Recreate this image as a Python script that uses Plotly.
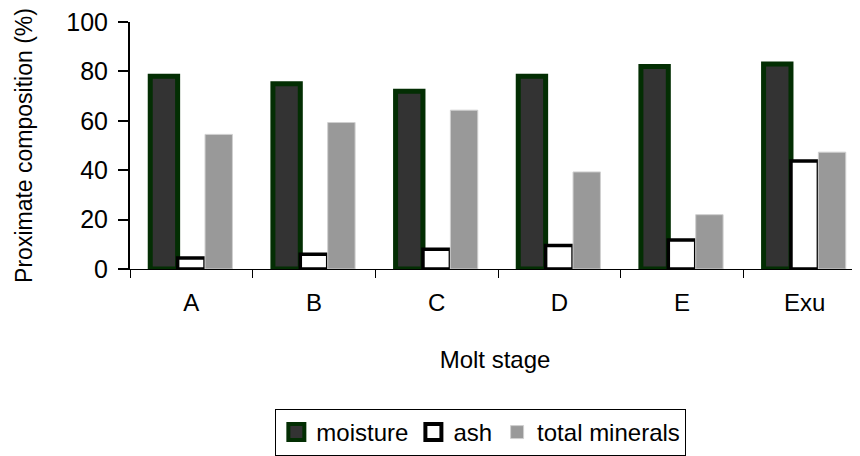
import plotly.graph_objects as go

categories = ["A", "B", "C", "D", "E", "Exu"]
moisture = [78, 75, 72, 78, 82, 83]
ash = [4.5, 6, 8, 9.5, 11.7, 43.7]
total_minerals = [54.5, 59.3, 64.3, 39.3, 22, 47.3]
y_ticks = [0, 20, 40, 60, 80, 100]

FONT = "Liberation Sans, Arial, sans-serif"

styles = {
    "moisture": dict(fill="#333333", line="#032e03", width=5),
    "ash": dict(fill="#ffffff", line="#000000", width=3.5),
    "total minerals": dict(fill="#999999", line="#d0d0d0", width=1),
}
legend_sizes = {"moisture": (16, 4), "ash": (16, 4), "total minerals": (13, 1)}

fig = go.Figure()
for name, vals in [("moisture", moisture), ("ash", ash), ("total minerals", total_minerals)]:
    s = styles[name]
    fig.add_trace(go.Bar(
        name=name, x=categories, y=vals, showlegend=False,
        marker=dict(color=s["fill"], line=dict(color=s["line"], width=s["width"])),
    ))
for name in ["moisture", "ash", "total minerals"]:
    s = styles[name]
    sz, lw = legend_sizes[name]
    fig.add_trace(go.Scatter(
        name=name, x=[None], y=[None], mode="markers",
        marker=dict(symbol="square", size=sz, color=s["fill"],
                    line=dict(color=s["line"], width=lw)),
    ))

fig.update_layout(
    width=852, height=448,
    margin=dict(l=122, r=0, t=14, b=187),
    paper_bgcolor="white", plot_bgcolor="white",
    font=dict(family=FONT, color="#000000"),
    barmode="group", bargap=0.33, bargroupgap=0,
    showlegend=True,
    legend=dict(
        orientation="h", xref="container", yref="container",
        x=0.555, xanchor="center", y=0.0, yanchor="bottom",
        bordercolor="#000000", borderwidth=1,
        font=dict(size=24, family=FONT), itemwidth=30,
        tracegroupgap=0,
    ),
)
fig.update_xaxes(
    range=[-0.5, 5.451],
    showline=True, linecolor="#000000", linewidth=1,
    ticks="outside", tickson="boundaries", ticklen=8, tickcolor="#000000",
    tickfont=dict(size=24, family=FONT), ticklabelstandoff=12,
    title=dict(text="Molt stage", font=dict(size=24, family=FONT), standoff=36),
    showgrid=False, zeroline=False,
)
fig.update_yaxes(
    range=[0, 100], tickvals=y_ticks,
    showline=True, linecolor="#000000", linewidth=2,
    ticks="outside", ticklen=10, tickcolor="#000000", tickwidth=1.5,
    tickfont=dict(size=25, family=FONT), ticklabelstandoff=5,
    ticklabeloverflow="allow",
    title=dict(text="Proximate composition (%)", font=dict(size=23, family=FONT), standoff=27),
    showgrid=False, zeroline=False,
)

fig.write_html("out.html")
